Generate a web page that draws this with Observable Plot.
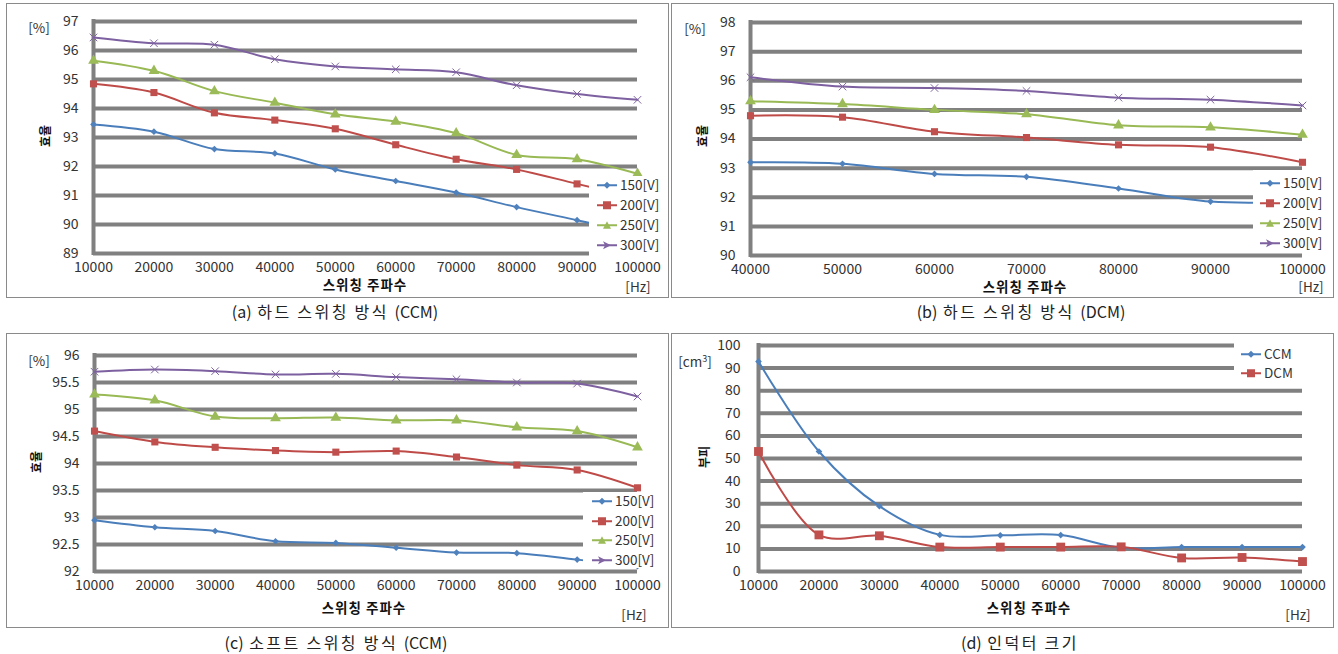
<!DOCTYPE html>
<html><head><meta charset="utf-8">
<script src="https://cdn.jsdelivr.net/npm/d3@7"></script>
<script src="https://cdn.jsdelivr.net/npm/@observablehq/plot@0.6"></script>
<style>
body{margin:0;background:#fff;font-family:"Noto Sans CJK KR","Noto Sans",sans-serif;color:#333;}
#root{position:relative;width:1338px;height:654px;overflow:hidden;background:#fff;}
.box{position:absolute;border:1px solid #8a8a8a;box-sizing:border-box;}
.abs{position:absolute;white-space:nowrap;transform:translate(-50%,-50%);line-height:1;}
.plot{position:absolute;}
.leg{position:absolute;background:#fff;}
.item{position:absolute;display:flex;align-items:center;transform:translateY(-50%);font-size:13.5px;line-height:1;}
</style></head><body><div id="root"></div>
<script>
// ---------- data ----------
const freqA = [10000,20000,30000,40000,50000,60000,70000,80000,90000,100000];
const a150 = [93.45,93.2,92.6,92.45,91.9,91.5,91.1,90.6,90.15,89.7];
const a200 = [94.85,94.55,93.85,93.6,93.3,92.75,92.25,91.9,91.4,90.9];
const a250 = [95.65,95.3,94.6,94.2,93.8,93.55,93.15,92.4,92.25,91.75];
const a300 = [96.45,96.25,96.2,95.7,95.45,95.35,95.25,94.8,94.5,94.3];

const freqB = [40000,50000,60000,70000,80000,90000,100000];
const b150 = [93.2,93.15,92.8,92.7,92.3,91.85,91.85];
const b200 = [94.8,94.75,94.25,94.05,93.8,93.72,93.2];
const b250 = [95.3,95.2,95.0,94.85,94.47,94.4,94.15];
const b300 = [96.12,95.8,95.75,95.65,95.42,95.35,95.15];

const freqC = [10000,20000,30000,40000,50000,60000,70000,80000,90000,100000];
const c150 = [92.95,92.82,92.75,92.56,92.53,92.44,92.35,92.34,92.22,92.1];
const c200 = [94.6,94.4,94.3,94.24,94.21,94.23,94.12,93.97,93.88,93.55];
const c250 = [95.28,95.17,94.87,94.84,94.85,94.8,94.8,94.67,94.6,94.3];
const c300 = [95.7,95.74,95.71,95.65,95.66,95.6,95.56,95.5,95.48,95.24];

const freqD = [10000,20000,30000,40000,50000,60000,70000,80000,90000,100000];
const dCCM = [92.9,53.1,28.9,16.2,16.0,16.1,10.5,10.8,10.8,10.8];
const dDCM = [53.1,16.2,15.8,10.8,10.8,10.8,10.9,6.0,6.2,4.4];

const yTicksA = [89,90,91,92,93,94,95,96,97];
const yTicksB = [90,91,92,93,94,95,96,97,98];
const yTicksC = [92,92.5,93,93.5,94,94.5,95,95.5,96];
const yTicksD = [0,10,20,30,40,50,60,70,80,90,100];

const voltNames = ["150[V]","200[V]","250[V]","300[V]"];
const modeNames = ["CCM","DCM"];
const captions = ["(a) 하드 스위칭 방식 (CCM)","(b) 하드 스위칭 방식 (DCM)","(c) 소프트 스위칭 방식 (CCM)","(d) 인덕터 크기"];

// ---------- styles ----------
const styles = [
  {line:"#4A7EBB", mark:"#4F81BD", symbol:"diamond2", fill:true},
  {line:"#BE4B48", mark:"#C0504D", symbol:"square", fill:true},
  {line:"#98B954", mark:"#9BBB59", symbol:"triangle", fill:true},
  {line:"#7D60A0", mark:"#8064A2", symbol:"times", fill:false}
];

const root = document.getElementById("root");
function el(cls, css, html){const d=document.createElement("div");d.className=cls;Object.assign(d.style,css);if(html!==undefined)d.innerHTML=html;root.appendChild(d);return d;}
function spaceKorean(s, ls){return s.replace(/([가-힣]+)/g, `<span style="letter-spacing:${ls}px">$1</span>`);}

function legendIcon(i){
  const s = styles[i];
  let m;
  if(i===0) m = `<path d="M10,2.5L13.5,6L10,9.5L6.5,6Z" fill="${s.mark}"/>`;
  else if(i===1) m = `<rect x="6" y="2" width="8" height="8" fill="${s.mark}"/>`;
  else if(i===2) m = `<path d="M10,2L14,9.5L6,9.5Z" fill="${s.mark}"/>`;
  else m = `<path d="M6,2L14,6L6,10L8,6Z" fill="${s.mark}"/>`;
  return `<svg width="20" height="12" style="margin-right:3px"><line x1="0" y1="6" x2="20" y2="6" stroke="${s.line}" stroke-width="2"/>${m}</svg>`;
}

function panel(cfg){
  const {box, frame, freq, series, names, yTicks, yDomain, rSq} = cfg;
  el("box",{left:box.x+"px",top:box.y+"px",width:box.w+"px",height:box.h+"px"});
  const marks = [
    Plot.ruleY(yTicks,{stroke:"#808080",strokeWidth:4}),
    Plot.ruleX([freq[0]],{stroke:"#808080",strokeWidth:4,insetTop:-2,insetBottom:-2})
  ];
  series.forEach((vals,i)=>{
    const rows = freq.map((f,j)=>({f, v:vals[j]}));
    const s = styles[i];
    marks.push(Plot.line(rows,{x:"f",y:"v",stroke:s.line,strokeWidth:2,curve:"catmull-rom"}));
    const r = i===0?3:(i===1?rSq:(i===2?4:3.5));
    marks.push(Plot.dot(rows, s.fill ? {x:"f",y:"v",symbol:s.symbol,fill:s.mark,r, stroke:null}
                                  : {x:"f",y:"v",symbol:s.symbol,stroke:s.mark,strokeWidth:1,r}));
  });
  marks.push(Plot.axisX({ticks:freq,tickSize:0,tickPadding:9,tickFormat:d=>String(d),label:null,fontSize:14}));
  marks.push(Plot.axisY({ticks:yTicks,tickSize:0,tickPadding:cfg.yPad||15,tickFormat:d=>String(d),label:null,fontSize:14}));
  const chart = Plot.plot({
    width: box.w, height: box.h,
    marginLeft: frame.x0-box.x, marginRight: box.x+box.w-frame.x1,
    marginTop: frame.y0-box.y, marginBottom: box.y+box.h-frame.y1,
    x:{domain:[freq[0],freq[freq.length-1]]},
    y:{domain:yDomain},
    style:{fontFamily:'"Noto Sans CJK KR","Noto Sans",sans-serif',fontSize:"14px",color:"#333",overflow:"visible",background:"transparent"},
    marks
  });
  chart.classList.add("plot");
  chart.style.left = box.x+"px"; chart.style.top = box.y+"px";
  root.appendChild(chart);
  // legend
  const L = cfg.legend;
  el("leg",{left:L.x+"px",top:L.y+"px",width:L.w+"px",height:L.h+"px"});
  names.forEach((n,i)=>{
    el("item",{left:L.lx+"px",top:L.ys[i]+"px"}, legendIcon(i)+`<span>${n}</span>`);
  });
  // texts
  const T = cfg.texts;
  el("abs",{left:T.unit[0]+"px",top:T.unit[1]+"px",fontSize:"13.5px"},T.unit[2]);
  el("abs",{left:T.ylab[0]+"px",top:T.ylab[1]+"px",fontSize:"12px",fontWeight:"bold",color:"#111",transform:"translate(-50%,-50%) rotate(-90deg)"},T.ylab[2]);
  el("abs",{left:T.xlab[0]+"px",top:T.xlab[1]+"px",fontSize:"13.5px",fontWeight:"bold",color:"#111",letterSpacing:"1px"},"스위칭 주파수");
  el("abs",{left:T.hz[0]+"px",top:T.hz[1]+"px",fontSize:"13.5px"},"[Hz]");
  el("abs",{left:T.cap[0]+"px",top:T.cap[1]+"px",fontSize:"16px",color:"#222",wordSpacing:"2px"},spaceKorean(T.cap[2],2.5));
}

panel({
  box:{x:6,y:3,w:663,h:295}, frame:{x0:93,x1:637,y0:21,y1:253},
  freq:freqA, series:[a150,a200,a250,a300], names:voltNames, yTicks:yTicksA, yDomain:[89,97], rSq:4,
  legend:{x:589,y:176,w:77,h:81,lx:597,ys:[185,205,225,245]},
  texts:{unit:[39,28,"[%]"],ylab:[45,136,"효율"],xlab:[365,285],hz:[638,287],cap:[335,311,captions[0]]}
});
panel({
  box:{x:671,y:3,w:663,h:295}, frame:{x0:750,x1:1302,y0:22,y1:255},
  freq:freqB, series:[b150,b200,b250,b300], names:voltNames, yTicks:yTicksB, yDomain:[90,98], rSq:4,
  legend:{x:1253,y:170,w:78,h:81,lx:1260,ys:[183,203,223,243]},
  texts:{unit:[695,29,"[%]"],ylab:[702,136,"효율"],xlab:[1025,287],hz:[1311,287],cap:[1021,311,captions[1]]}
});
panel({
  box:{x:6,y:333,w:663,h:295}, frame:{x0:94,x1:637,y0:355,y1:571},
  freq:freqC, series:[c150,c200,c250,c300], names:voltNames, yTicks:yTicksC, yDomain:[92,96], rSq:4,
  legend:{x:583,y:492,w:78,h:76,lx:592,ys:[501,521,540,560]},
  texts:{unit:[39,361,"[%]"],ylab:[36,462,"효율"],xlab:[364,608],hz:[634,615],cap:[336,642,captions[2]]}
});
panel({
  box:{x:671,y:333,w:663,h:295}, frame:{x0:758,x1:1302,y0:345,y1:571},
  freq:freqD, series:[dCCM,dDCM], names:modeNames, yTicks:yTicksD, yDomain:[0,100], rSq:5, yPad:18,
  legend:{x:1234,y:340,w:96,h:41,lx:1241,ys:[354,373]},
  texts:{unit:[695,361,"[cm<sup style='font-size:9px'>3</sup>]"],ylab:[704,457,"부피"],xlab:[1029,608],hz:[1298,615],cap:[1020,642,captions[3]]}
});
</script></body></html>
